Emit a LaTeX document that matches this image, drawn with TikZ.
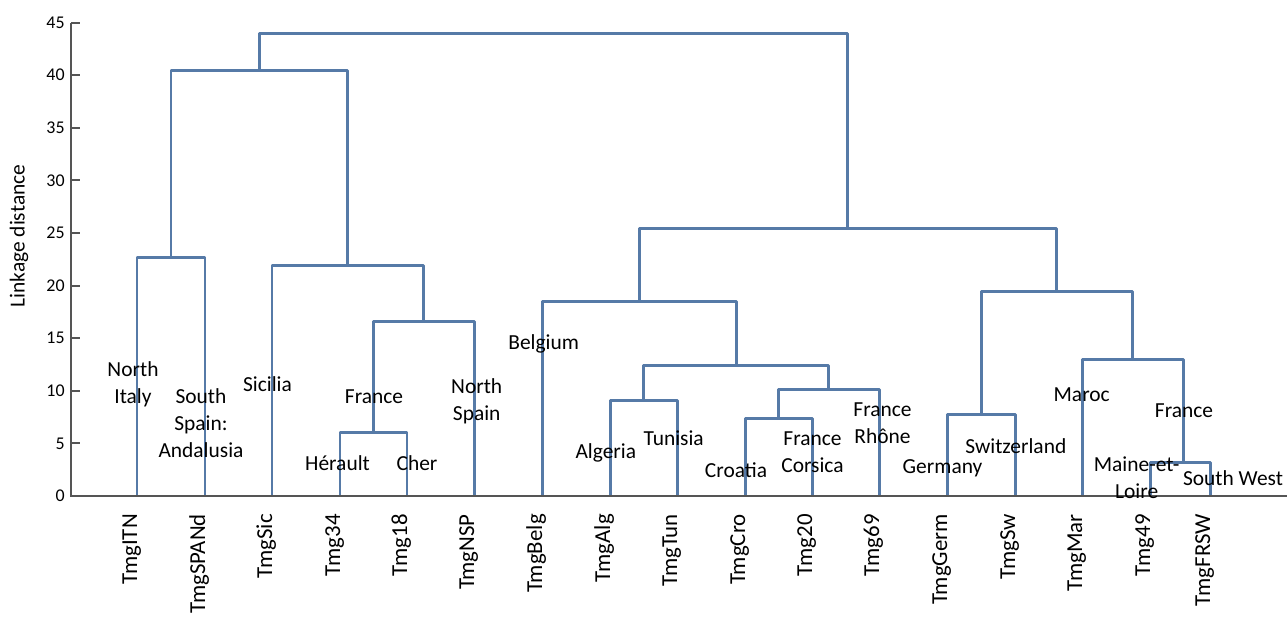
\documentclass[tikz,border=0pt]{standalone}
\usepackage{fontspec}
\setmainfont{Carlito}
\definecolor{dendro}{RGB}{86,122,167}
\definecolor{axisgray}{RGB}{85,85,85}
\tikzset{
  link/.style={draw=dendro, line width=1.7pt, line join=round},
  axisline/.style={draw=axisgray, line width=1.1pt},
  leaf/.style={rotate=90, anchor=base east, inner sep=0pt, font=\fontsize{13}{15}\selectfont},
  place/.style={align=center, inner sep=0pt, font=\fontsize{12.2}{15.3}\selectfont},
  tick/.style={anchor=east, inner sep=0pt, font=\fontsize{10.2}{12}\selectfont}
}

\begin{document}
\begin{tikzpicture}[x=0.02cm, y=0.2104cm]
\useasboundingbox (-71,-11.692) rectangle (1216,47.148);
% leaves
\foreach \x/\n in {66/TmgITN,134/TmgSPANd,201/TmgSic,269/Tmg34,336/Tmg18,403/TmgNSP,
                   471/TmgBelg,539/TmgAlg,606/TmgTun,674/TmgCro,741/Tmg20,808/Tmg69,
                   876/TmgGerm,944/TmgSw,1011/TmgMar,1079/Tmg49,1139/TmgFRSW}{
  \coordinate (\n) at (\x,0);
  \node[leaf] (\n-lab) at (\x,-1.71) {\n};
}
% merges
\coordinate (a1) at (100,22.62);
\coordinate (a2) at (302.5,5.99);
\coordinate (a3) at (352.75,16.54);
\coordinate (a4) at (276.9,21.86);
\coordinate (a5) at (188.4,40.49);
\coordinate (b1) at (572.5,9.03);
\coordinate (b2) at (707.5,7.32);
\coordinate (b3) at (757.75,10.08);
\coordinate (b4) at (665.1,12.36);
\coordinate (b5) at (568.05,18.44);
\coordinate (c1) at (910,7.70);
\coordinate (c2) at (1112,3.14);
\coordinate (c3) at (1061.5,12.93);
\coordinate (c4) at (985.75,19.39);
\coordinate (b6) at (776.9,25.38);
\coordinate (root) at (482.65,43.92);

\draw[link] (TmgITN) |- (a1) -| (TmgSPANd);
\draw[link] (Tmg34) |- (a2) -| (Tmg18);
\draw[link] (a2) |- (a3) -| (TmgNSP);
\draw[link] (TmgSic) |- (a4) -| (a3);
\draw[link] (a1) |- (a5) -| (a4);
\draw[link] (TmgAlg) |- (b1) -| (TmgTun);
\draw[link] (TmgCro) |- (b2) -| (Tmg20);
\draw[link] (b2) |- (b3) -| (Tmg69);
\draw[link] (b1) |- (b4) -| (b3);
\draw[link] (TmgBelg) |- (b5) -| (b4);
\draw[link] (TmgGerm) |- (c1) -| (TmgSw);
\draw[link] (Tmg49) |- (c2) -| (TmgFRSW);
\draw[link] (TmgMar) |- (c3) -| (c2);
\draw[link] (c1) |- (c4) -| (c3);
\draw[link] (b5) |- (b6) -| (c4);
\draw[link] (a5) |- (root) -| (b6);

% axes
\coordinate (o) at (0,0);
\coordinate (ytop) at (0,45);
\coordinate (xend) at (1216,0);
\draw[axisline] (ytop) -- (o) -- (xend);
\foreach \v in {0,5,...,45}{
  \draw[axisline] (0,\v) -- (9,\v);
  \node[tick] (t\v) at (-6,\v) {\v};
}
\node[rotate=90, inner sep=0pt, font=\fontsize{12.2}{15}\selectfont] (ylab) at (-52,24.7) {Linkage distance};

% places
\node[place] (nitaly) at (62,10.65) {North\\Italy};
\node[place] (sspain) at (130,6.94) {South\\Spain:\\Andalusia};
\node[place] (sicilia) at (196.5,10.65) {Sicilia};
\node[place] (france1) at (303,9.43) {France};
\node[place] (herault) at (266.5,3.14) {Hérault};
\node[place] (cher) at (346,3.14) {Cher};
\node[place] (nspain) at (405.7,9.03) {North\\Spain};
\node[place] (belgium) at (472.7,14.45) {Belgium};
\node[place] (algeria) at (534.8,4.09) {Algeria};
\node[place] (tunisia) at (602.7,5.48) {Tunisia};
\node[place] (croatia) at (665,2.47) {Croatia};
\node[place] (corsica) at (741.5,4.18) {France\\Corsica};
\node[place] (rhone) at (811.5,6.88) {France\\Rhône};
\node[place] (germany) at (871.5,2.66) {Germany};
\node[place] (swiss) at (944.8,4.75) {Switzerland};
\node[place] (maroc) at (1010.7,9.6) {Maroc};
\node[place] (france2) at (1113,8.1) {France};
\node[place] (maine) at (1065.7,1.76) {Maine-et-\\Loire};
\node[place] (swest) at (1162,1.68) {South West};
\end{tikzpicture}
\end{document}
